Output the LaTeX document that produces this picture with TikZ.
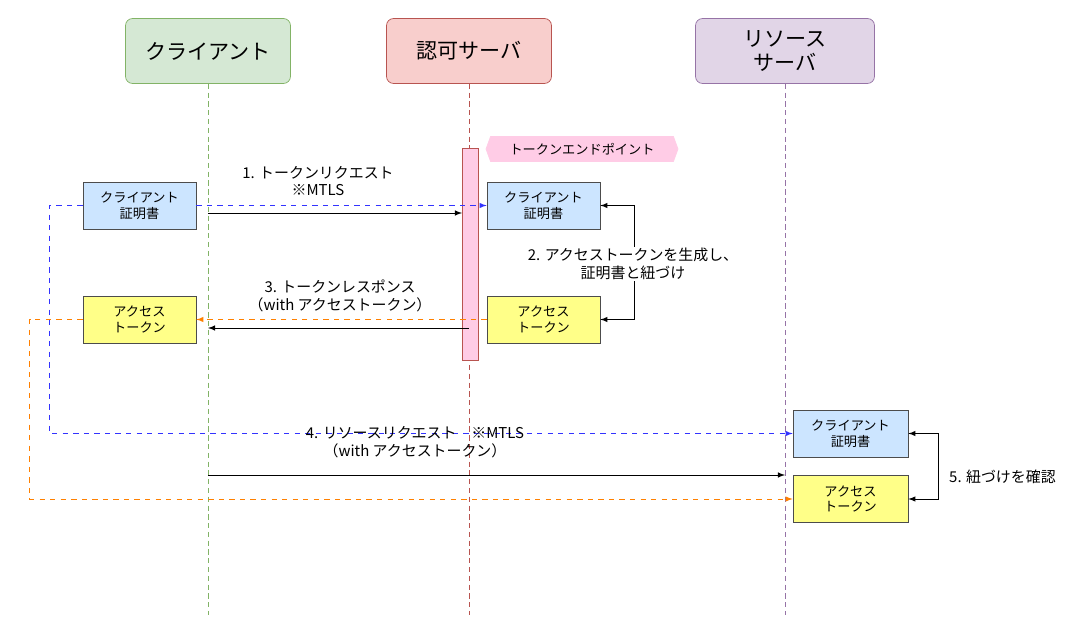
\documentclass[tikz,border=0pt]{standalone}
\usepackage{fontspec}
\setmainfont{Noto Sans CJK JP}
\usetikzlibrary{shapes.symbols}
\definecolor{hdgreen}{HTML}{D5E8D4}\definecolor{lngreen}{HTML}{82B366}
\definecolor{hdred}{HTML}{F8CECC}\definecolor{lnred}{HTML}{B85450}
\definecolor{hdpurple}{HTML}{E1D5E7}\definecolor{lnpurple}{HTML}{9673A6}
\definecolor{certblue}{HTML}{CCE5FF}\definecolor{tokyellow}{HTML}{FFFF88}
\definecolor{barpink}{HTML}{FFCCE6}\definecolor{dblue}{HTML}{3333FF}
\definecolor{dorange}{HTML}{FF8000}
\begin{document}
\begin{tikzpicture}[x=0.02cm,y=-0.02cm,>=latex]
    \tikzstyle{header} = [rectangle, rounded corners=4pt, draw, minimum width=3.3cm, minimum height=1.3cm, font=\fontsize{12}{14}\selectfont, align=center]
    \tikzstyle{cert} = [rectangle, draw=black!70, fill=certblue, minimum width=2.26cm, minimum height=0.94cm, font=\fontsize{7.5}{9}\selectfont, align=center]
    \tikzstyle{token} = [cert, fill=tokyellow]
    \tikzstyle{msg} = [font=\fontsize{8.5}{10}\selectfont, align=center]
    \tikzstyle{life} = [densely dashed, thin]
    \useasboundingbox (0,0) rectangle (1087,641);
    % participants
    \node[header, fill=hdgreen, draw=lngreen] (cli) at (208,51) {クライアント};
    \node[header, fill=hdred, draw=lnred] (az) at (469,51) {認可サーバ};
    \node[header, fill=hdpurple, draw=lnpurple, minimum width=3.58cm] (rs) at (785,51) {リソース\\サーバ};
    \coordinate (cliend) at (208,615);
    \coordinate (azend) at (469,615);
    \coordinate (rsend) at (785,615);
    \draw[life, lngreen] (cli) -- (cliend);
    \draw[life, lnred] (az) -- (azend);
    \draw[life, lnpurple] (rs) -- (rsend);
    % activation + endpoint tag
    \node[draw=lnred, fill=barpink, minimum width=0.32cm, minimum height=4.24cm, inner sep=0pt] (bar) at (470,254) {};
    \node[signal, signal to=east and west, signal pointer angle=140, fill=barpink, draw=barpink, minimum width=3.84cm, minimum height=0.5cm, inner sep=1pt, font=\fontsize{7.5}{9}\selectfont] (ep) at (582,149) {トークンエンドポイント};
    % certificates and tokens
    \node[cert] (c1) at (139.5,205.5) {クライアント\\証明書};
    \node[cert] (c2) at (543.5,205.5) {クライアント\\証明書};
    \node[cert, minimum width=2.3cm] (c3) at (850.5,433.5) {クライアント\\証明書};
    \node[token] (t1) at (139.5,319.5) {アクセス\\トークン};
    \node[token] (t2) at (543.5,319.5) {アクセス\\トークン};
    \node[token, minimum width=2.3cm] (t3) at (850.5,499) {アクセス\\トークン};
    % 1. token request
    \coordinate (m1a) at (208,213);
    \coordinate (m1b) at (462,213);
    \draw[->] (m1a) -- (m1b);
    \node[msg] (l1) at (318,181) {1. トークンリクエスト\\※MTLS};
    \draw[->, dashed, dblue] (c1.east) -- (c2.west);
    \draw[->, dashed, dblue] (c1.west) -- ++(-33,0) |- (c3.west);
    % 2. generate and bind
    \draw[<->] (c2.east) -| (634,260) |- (t2.east);
    \node[msg, fill=white, inner sep=1pt] (l2) at (633,264) {2. アクセストークンを生成し、\\証明書と紐づけ};
    % 3. token response
    \coordinate (m3a) at (469,328);
    \coordinate (m3b) at (208,328);
    \draw[->] (m3a) -- (m3b);
    \node[msg] (l3) at (340,296) {3. トークンレスポンス\\（with アクセストークン）};
    \draw[->, dashed, dorange] (t2.west) -- (t1.east);
    \draw[->, dashed, dorange] (t1.west) -- ++(-53,0) |- (t3.west);
    % 4. resource request
    \coordinate (m4a) at (208,475);
    \coordinate (m4b) at (785,475);
    \draw[->] (m4a) -- (m4b);
    \node[msg] (l4) at (415,442) {4. リソースリクエスト　※MTLS\\（with アクセストークン）};
    % 5. verify binding
    \draw[<->] (c3.east) -| (938,466) |- (t3.east);
    \node[msg, anchor=west] (l5) at (943,477) {5. 紐づけを確認};
\end{tikzpicture}
\end{document}
